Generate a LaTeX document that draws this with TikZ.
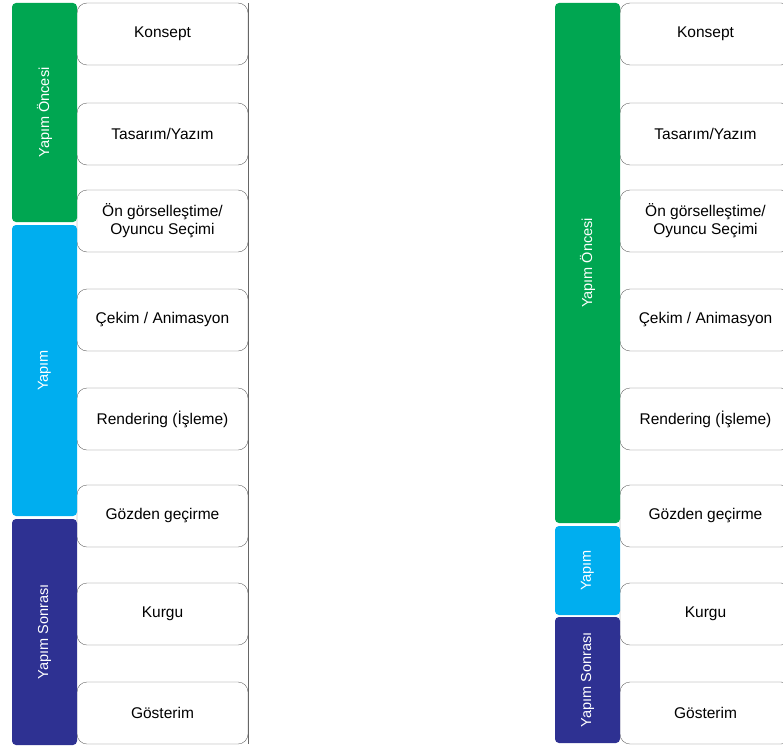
\documentclass[tikz,border=0pt]{standalone}
\usepackage{fontspec}
\setmainfont{Liberation Sans}
\usetikzlibrary{positioning}
\definecolor{preprod}{HTML}{00A651}
\definecolor{prod}{HTML}{00AEEF}
\definecolor{postprod}{HTML}{2E3192}
\definecolor{boxgray}{HTML}{666666}

\tikzset{
  stagebox/.style={draw=boxgray,fill=white,rounded corners=10pt,minimum width=171pt,
    minimum height=62pt,inner sep=0pt,align=center,font=\fontsize{15.5}{18}\selectfont},
  phasebar/.style={rotate=90,rounded corners=4pt,minimum height=65pt,inner sep=0pt,
    text=white,font=\fontsize{14.5}{17}\selectfont}
}

\begin{document}
\begin{tikzpicture}[x=1pt,y=-1pt]
  \useasboundingbox (0,0) rectangle (783,749);
  % Stage boxes, left and right chart
  \foreach \side/\dx in {l/0,r/543}{
    \foreach \name/\y/\txt in {k1/34/Konsept, k2/134/{Tasarım/Yazım},
        k3/221/{Ön görselleştime/\\Oyuncu Seçimi}, k4/320/{Çekim / Animasyon},
        k5/419/{Rendering (İşleme)}, k6/516/{Gözden geçirme}, k7/614/Kurgu, k8/713/Gösterim}
      \node[stagebox] (\side\name) at (162.5+\dx,\y) {\txt};
    \draw[boxgray] (\side k1.north east) -- (\side k8.south east);
  }
  % Phases, left chart
  \node[phasebar,fill=preprod,minimum width=219pt] (lpre) at (44.5,112.5) {Yapım Öncesi};
  \node[phasebar,fill=prod,minimum width=291pt] (lprod) at (44.5,370.5) {Yapım};
  \node[phasebar,fill=postprod,minimum width=226pt] (lpost) at (44.5,632) {Yapım Sonrası};
  % Phases, right chart
  \node[phasebar,fill=preprod,minimum width=520pt] (rpre) at (587.5,263) {Yapım Öncesi};
  \node[phasebar,fill=prod,minimum width=89pt] (rprod) at (587.5,570.5) {Yapım};
  \node[phasebar,fill=postprod,minimum width=126pt] (rpost) at (587.5,680) {Yapım Sonrası};
\end{tikzpicture}
\end{document}
